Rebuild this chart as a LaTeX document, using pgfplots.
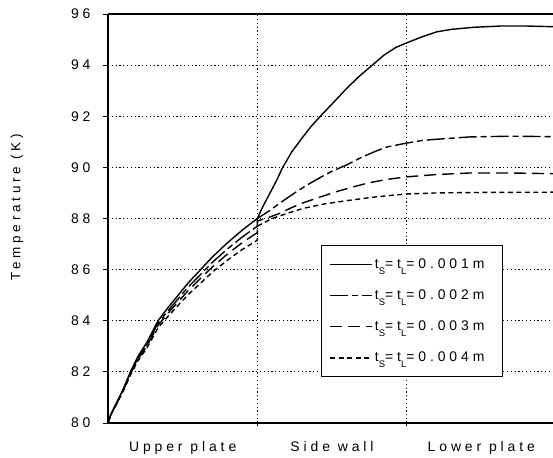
\documentclass[border=0pt]{standalone}
\usepackage{fontspec}
\setmainfont{Liberation Sans}[LetterSpace=28]
\usepackage{pgfplots}
\pgfplotsset{compat=1.18}

\newcommand{\tsl}[1]{\fontsize{14}{16}\selectfont t\raisebox{-6bp}{\fontsize{9.5}{10}\selectfont S}=t\raisebox{-6bp}{\fontsize{9.5}{10}\selectfont L}=#1m\hspace*{8bp}}

\begin{document}
\begin{tikzpicture}
\begin{axis}[
  name=ax,
  scale only axis,
  width=445bp, height=409bp,
  xmin=0, xmax=2.98,
  ymin=80, ymax=96,
  axis x line*=box,
  axis y line*=left,
  axis line style={line width=1.3bp},
  major tick length=5bp,
  xtick={1,2},
  xticklabels={},
  xtick pos=bottom,
  xtick align=center,
  extra x ticks={0.5,1.5,2.5},
  extra x tick labels={Upper plate,Side wall,Lower plate},
  extra x tick style={grid=none, tick style={draw=none},
    tick label style={yshift=-12bp}},
  ytick={80,82,...,96},
  ytick pos=left,
  ytick align=outside,
  yticklabel style={xshift=-9bp},
  tick style={line width=0.9bp, black},
  grid=major,
  grid style={black, line width=0.8bp, dash pattern=on 1.2bp off 2.6bp},
  tick label style={font=\fontsize{14}{16}\selectfont},
  /pgf/number format/assume math mode=true,
  ylabel={Temperature (K)},
  every axis y label/.style={at={(axis description cs:-0.2045,0.528)},
    rotate=90, anchor=center, font=\fontsize{13.5}{16}\selectfont},
  legend style={at={(0.479,0.435)}, anchor=north west, draw=black,
    line width=1bp, fill=white,
    row sep=16bp, inner xsep=8bp, inner ysep=11bp},
  legend cell align=left,
  legend image code/.code={\draw[#1, line width=1.3bp] (0bp,0bp) -- (42bp,0bp);},
  every axis plot/.append style={black, line width=1.4bp},
]
\addplot[solid] coordinates {
(0,80) (0.02,80.35) (0.05,80.7) (0.1,81.3) (0.15,82.0) (0.2,82.6) (0.26,83.15)
(0.335,84.0) (0.4,84.5) (0.46,84.93) (0.54,85.5) (0.62,86.0) (0.7,86.5)
(0.8,87.05) (0.9,87.55) (1.0,88.0) (1.04,88.5) (1.085,89.0) (1.13,89.5)
(1.17,90.0) (1.23,90.6) (1.3,91.15) (1.36,91.6) (1.43,92.05) (1.52,92.6)
(1.6,93.1) (1.68,93.55) (1.77,94.0) (1.85,94.4) (1.93,94.7) (2.0,94.87)
(2.1,95.1) (2.2,95.3) (2.3,95.4) (2.45,95.48) (2.63,95.53) (2.8,95.53) (3.0,95.5)};
\addlegendentry{\tsl{0.001}}
\addplot[dash pattern=on 18bp off 4bp on 6bp off 4bp] coordinates {
(0,80) (0.02,80.34) (0.05,80.68) (0.1,81.27) (0.15,81.95) (0.2,82.54) (0.26,83.07)
(0.335,83.9) (0.4,84.38) (0.46,84.79) (0.54,85.34) (0.62,85.81) (0.7,86.29)
(0.8,86.81) (0.9,87.28) (1.0,87.7) (1.0,88.0) (1.08,88.3) (1.15,88.6)
(1.25,89.0) (1.33,89.3) (1.42,89.6) (1.5,89.85) (1.6,90.1) (1.7,90.4)
(1.8,90.65) (1.87,90.8) (2.0,90.95) (2.1,91.05) (2.2,91.1) (2.42,91.19)
(2.7,91.22) (3.0,91.2)};
\addlegendentry{\tsl{0.002}}
\addplot[dash pattern=on 12bp off 6bp] coordinates {
(0,80) (0.02,80.34) (0.05,80.67) (0.1,81.25) (0.15,81.92) (0.2,82.49) (0.26,83.01)
(0.335,83.82) (0.4,84.28) (0.46,84.68) (0.54,85.2) (0.62,85.66) (0.7,86.11)
(0.8,86.61) (0.9,87.06) (1.0,87.45) (1.0,87.9) (1.08,88.05) (1.15,88.2)
(1.22,88.4) (1.3,88.6) (1.4,88.8) (1.53,89.05) (1.65,89.25) (1.75,89.4)
(1.87,89.53) (2.0,89.63) (2.2,89.72) (2.42,89.78) (2.7,89.78) (3.0,89.75)};
\addlegendentry{\tsl{0.003}}
\addplot[dash pattern=on 5bp off 3.5bp] coordinates {
(0,80) (0.02,80.33) (0.05,80.66) (0.1,81.22) (0.15,81.87) (0.2,82.43) (0.26,82.93)
(0.335,83.72) (0.4,84.16) (0.46,84.54) (0.54,85.04) (0.62,85.47) (0.7,85.91)
(0.8,86.37) (0.9,86.79) (1.0,87.15) (1.0,87.7) (1.05,87.85) (1.1,88.0)
(1.2,88.2) (1.31,88.4) (1.45,88.57) (1.6,88.7) (1.8,88.85) (2.0,88.96)
(2.2,89.0) (2.5,89.02) (3.0,89.03)};
\addlegendentry{\tsl{0.004}}
\end{axis}
\pgfresetboundingbox
\path[use as bounding box] ([xshift=-108bp,yshift=-35bp]ax.south west) rectangle ([yshift=14bp]ax.north east);
\end{tikzpicture}
\end{document}
